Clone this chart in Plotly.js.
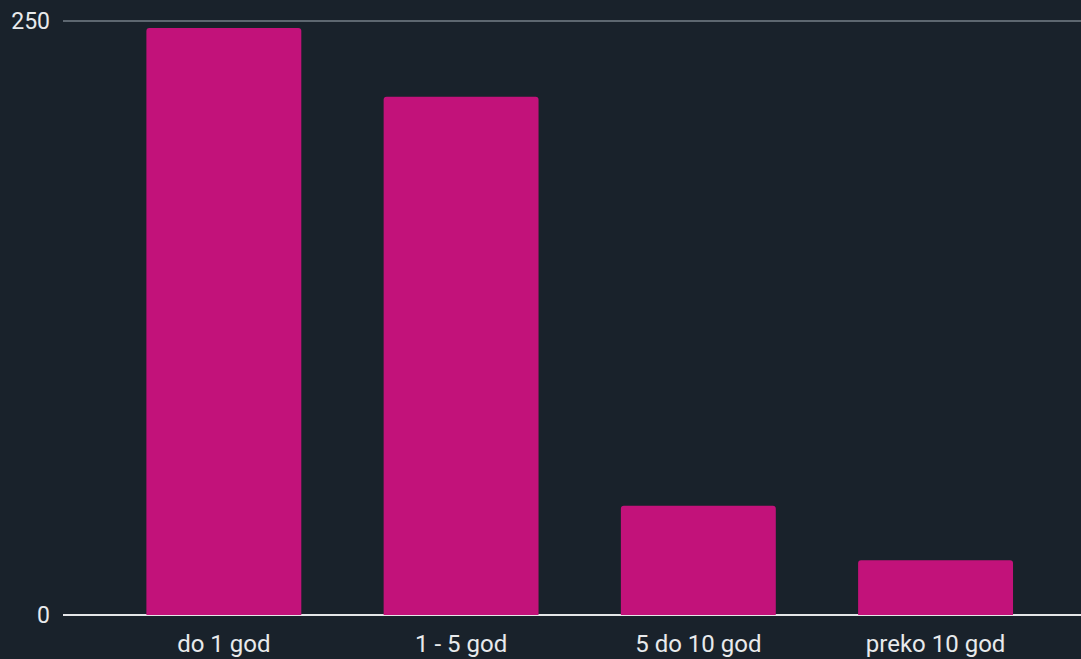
<!DOCTYPE html>
<html>
<head>
<meta charset="utf-8">
<script src="https://cdn.plot.ly/plotly-3.0.1.min.js"></script>
<style>html,body{margin:0;padding:0;background:#19222b;}#chart{width:1081px;height:659px;}</style>
</head>
<body>
<div id="chart"></div>
<script>
const categories = ["do 1 god", "1 - 5 god", "5 do 10 god", "preko 10 god"];
const values = [247, 218, 46, 23];
const yTickVals = [0, 250];
const yTickText = ["0", "250"];

const trace = {
  type: "bar",
  x: categories,
  y: values,
  width: 0.653,
  marker: { color: "#c2127a", cornerradius: 3 },
  hoverinfo: "x+y"
};

const layout = {
  width: 1081,
  height: 659,
  paper_bgcolor: "#19222b",
  plot_bgcolor: "#19222b",
  margin: { l: 63, r: 0, t: 16, b: 44 },
  showlegend: false,
  font: { family: "Roboto, sans-serif", color: "#e8eaec", size: 23 },
  xaxis: {
    range: [-0.678, 3.613],
    showgrid: false,
    showline: false,
    zeroline: false,
    ticks: "",
    tickfont: { size: 24, color: "#e8eaec" },
    ticklabelstandoff: 12
  },
  yaxis: {
    range: [0, 252],
    tickvals: yTickVals,
    ticktext: yTickText,
    showgrid: true,
    gridcolor: "#5d6770",
    gridwidth: 1.5,
    zeroline: true,
    zerolinecolor: "#e4e6e8",
    zerolinewidth: 2.5,
    showline: false,
    ticks: "",
    tickfont: { size: 23, color: "#e8eaec" },
    ticklabelstandoff: 12
  },
  bargap: 0.35
};

Plotly.newPlot("chart", [trace], layout, { displayModeBar: false, staticPlot: true });
</script>
</body>
</html>
